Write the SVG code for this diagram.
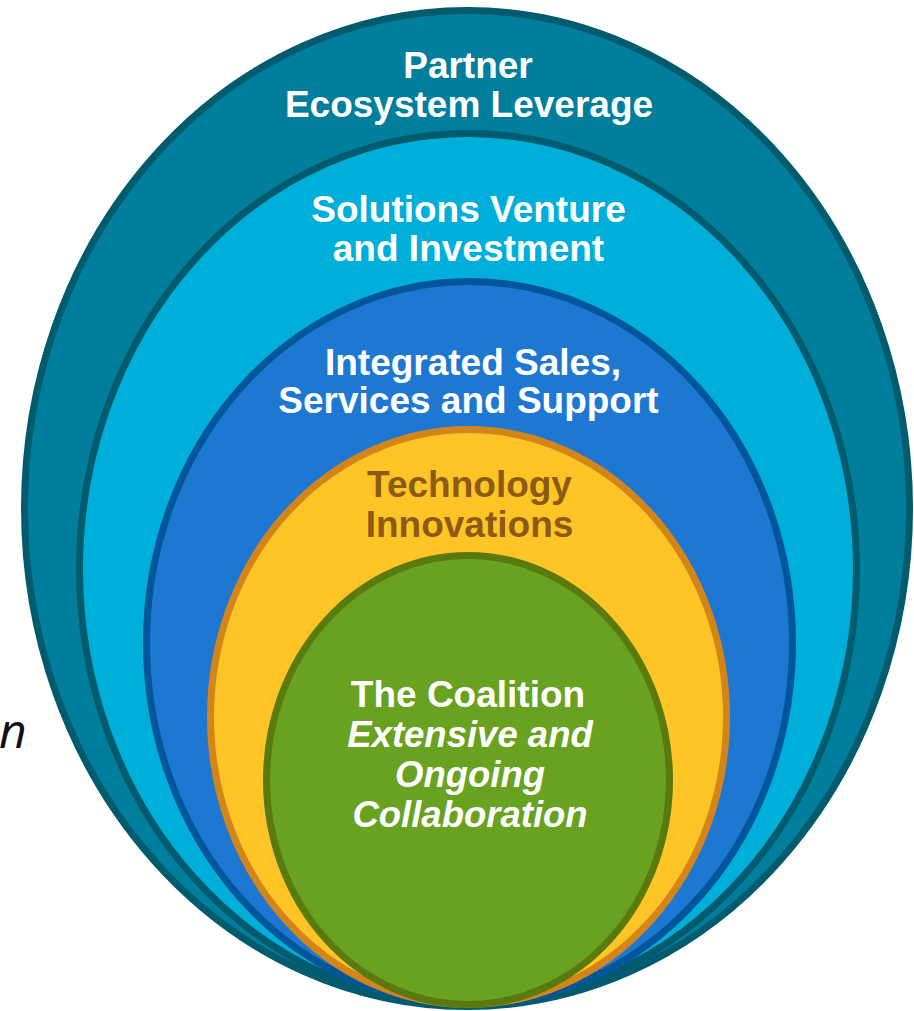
<svg xmlns="http://www.w3.org/2000/svg" width="914" height="1011" viewBox="0 0 914 1011">
  <style>
    .lbl { font-family: "Liberation Sans", Arial, sans-serif; font-weight: bold; font-size: 37px; text-anchor: middle; fill: #ffffff; }
    .it { font-style: italic; font-size: 36.5px; }
    .brown { fill: #8B5A14; }
    .ring { stroke-width: 7; }
  </style>
  <rect width="914" height="1011" fill="#ffffff"/>
  <text x="-1" y="748" font-family="'Open Sans', 'Noto Sans', sans-serif" font-style="italic" font-size="48" fill="#111111">n</text>
  <g id="partner">
    <ellipse class="ring" cx="467" cy="508.5" rx="442.5" ry="498" fill="#007E9C" stroke="#005B6F"/>
    <text class="lbl" x="468" y="78">Partner</text>
    <text class="lbl" x="469" y="117">Ecosystem Leverage</text>
  </g>
  <g id="solutions">
    <ellipse class="ring" cx="468" cy="569" rx="388.5" ry="435.5" fill="#00AEDA" stroke="#005B6F"/>
    <text class="lbl" x="468.5" y="222">Solutions Venture</text>
    <text class="lbl" x="468.5" y="261">and Investment</text>
  </g>
  <g id="integrated">
    <ellipse class="ring" cx="469.5" cy="643" rx="323" ry="361.5" fill="#1E78D2" stroke="#00569A"/>
    <text class="lbl" x="473" y="375">Integrated Sales,</text>
    <text class="lbl" x="468.5" y="413">Services and Support</text>
  </g>
  <g id="technology">
    <ellipse class="ring" cx="468.5" cy="717" rx="258" ry="287.5" fill="#FFC425" stroke="#D38519"/>
    <text class="lbl brown" x="469.5" y="497">Technology</text>
    <text class="lbl brown" x="469.5" y="537">Innovations</text>
  </g>
  <g id="coalition">
    <ellipse class="ring" cx="468" cy="780" rx="201.5" ry="224.5" fill="#69A221" stroke="#587A0F"/>
    <text class="lbl" x="468" y="707">The Coalition</text>
    <text class="lbl it" x="470" y="747">Extensive and</text>
    <text class="lbl it" x="470" y="787">Ongoing</text>
    <text class="lbl it" x="470" y="827">Collaboration</text>
  </g>
  <g id="connectors"></g>
</svg>
